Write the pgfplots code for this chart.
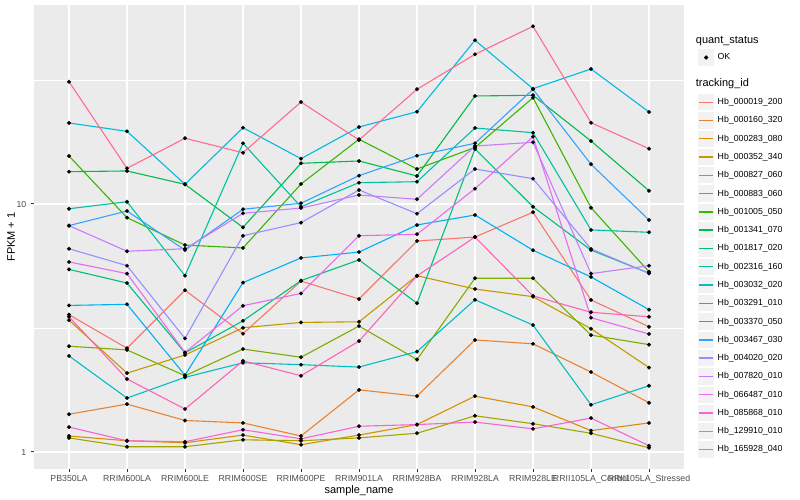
\documentclass[border=0pt]{standalone}
\usepackage{fontspec}
\setmainfont{Liberation Sans}
\usepackage{pgfplots}
\pgfplotsset{compat=1.18}

\definecolor{panelbg}{HTML}{EBEBEB}
\definecolor{keybg}{HTML}{F2F2F2}
\definecolor{tickgray}{HTML}{333333}
\definecolor{labelgray}{HTML}{4D4D4D}
% ggplot hue palette, 20 levels
\definecolor{c01}{HTML}{F8766D}
\definecolor{c02}{HTML}{EA8331}
\definecolor{c03}{HTML}{D89000}
\definecolor{c04}{HTML}{C09B00}
\definecolor{c05}{HTML}{A3A500}
\definecolor{c06}{HTML}{7CAE00}
\definecolor{c07}{HTML}{39B600}
\definecolor{c08}{HTML}{00BB4E}
\definecolor{c09}{HTML}{00BF7D}
\definecolor{c10}{HTML}{00C1A3}
\definecolor{c11}{HTML}{00BFC4}
\definecolor{c12}{HTML}{00BAE0}
\definecolor{c13}{HTML}{00B0F6}
\definecolor{c14}{HTML}{35A2FF}
\definecolor{c15}{HTML}{9590FF}
\definecolor{c16}{HTML}{C77CFF}
\definecolor{c17}{HTML}{E76BF3}
\definecolor{c18}{HTML}{FA62DB}
\definecolor{c19}{HTML}{FF62BC}
\definecolor{c20}{HTML}{FF6C91}

\pgfplotsset{
  series/.style={#1, line width=1.1bp, mark=*, mark size=1.9bp,
    mark options={draw=black, fill=black, line width=0.2bp}},
}

\begin{document}
\begin{tikzpicture}
\begin{axis}[
  set layers, mark layer=axis foreground,
  at={(34.2bp,31bp)}, anchor=south west,
  scale only axis, width=649.6bp, height=464bp,
  xmin=-0.6, xmax=10.6,
  ymode=log, ymin=0.854, ymax=63.45,
  xtick={0,...,10},
  xticklabels={PB350LA,RRIM600LA,RRIM600LE,RRIM600SE,RRIM600PE,RRIM901LA,RRIM928BA,RRIM928LA,RRIM928LE,RRII105LA\_Control,RRII105LA\_Stressed},
  ytick={1,10}, yticklabels={1,10},
  minor ytick={3.1623,31.623},
  grid=both,
  major grid style={white, line width=1.2bp},
  minor grid style={white, line width=0.6bp},
  axis background/.style={fill=panelbg},
  axis line style={draw=none},
  tick pos=left, tick align=outside,
  major tick length=2.75bp, minor tick length=0pt,
  every tick/.style={tickgray, line width=1bp},
  tick label style={font=\fontsize{8.8}{10}\selectfont, text=labelgray, inner sep=0pt},
  xticklabel style={anchor=north, yshift=-2.95bp},
  yticklabel style={anchor=east, xshift=-4.95bp},
  xlabel={sample\_name}, ylabel={FPKM + 1},
  label style={font=\fontsize{11}{13}\selectfont},
  xlabel style={at={(axis description cs:0.5,-0.0474)}, anchor=center},
  ylabel style={at={(axis description cs:-0.0357,0.5)}, anchor=center},
  legend style={at={(1.0203,0.9065)}, anchor=north west, draw=none, fill=none,
    inner sep=0pt, outer sep=0pt, row sep=0pt, column sep=2.4bp,
    font=\fontsize{8.8}{10}\selectfont, nodes={inner sep=0pt, text=black}},
  legend cell align=left,
  legend image code/.code={
    \filldraw[fill=keybg, draw=white, line width=1bp] (0bp,-8.64bp) rectangle (17.28bp,8.64bp);
    \draw[line width=1.4bp] (1.73bp,0bp) -- (15.55bp,0bp);
  },
]
\addlegendimage{legend image code/.code={
    \filldraw[fill=keybg, draw=white, line width=1bp] (0bp,-8.64bp) rectangle (17.28bp,8.64bp);
    \fill[black] (8.64bp,0bp) circle (1.9bp);
    \path (0bp,-35.36bp);
  }}
\addlegendentry{OK}

\addplot[series=c01] coordinates {(0,3.58)(1,2.62)(2,4.49)(3,3.00)(4,4.89)(5,4.14)(6,7.09)(7,7.36)(8,9.26)(9,4.10)(10,3.20)};
\addlegendentry{Hb\_000019\_200}
\addplot[series=c02] coordinates {(0,1.42)(1,1.56)(2,1.34)(3,1.31)(4,1.16)(5,1.78)(6,1.68)(7,2.83)(8,2.73)(9,2.10)(10,1.58)};
\addlegendentry{Hb\_000160\_320}
\addplot[series=c03] coordinates {(0,1.16)(1,1.11)(2,1.09)(3,1.17)(4,1.07)(5,1.17)(6,1.29)(7,1.68)(8,1.52)(9,1.22)(10,1.31)};
\addlegendentry{Hb\_000283\_080}
\addplot[series=c04] coordinates {(0,3.40)(1,2.08)(2,2.46)(3,3.17)(4,3.33)(5,3.35)(6,5.14)(7,4.54)(8,4.23)(9,3.14)(10,2.19)};
\addlegendentry{Hb\_000352\_340}
\addplot[series=c05] coordinates {(0,1.14)(1,1.05)(2,1.05)(3,1.12)(4,1.11)(5,1.14)(6,1.19)(7,1.40)(8,1.30)(9,1.19)(10,1.04)};
\addlegendentry{Hb\_000827\_060}
\addplot[series=c06] coordinates {(0,2.67)(1,2.58)(2,2.03)(3,2.60)(4,2.41)(5,3.22)(6,2.36)(7,5.02)(8,5.02)(9,2.96)(10,2.71)};
\addlegendentry{Hb\_000883\_060}
\addplot[series=c07] coordinates {(0,15.62)(1,8.81)(2,6.83)(3,6.65)(4,12.04)(5,18.24)(6,13.84)(7,16.90)(8,26.83)(9,9.66)(10,5.33)};
\addlegendentry{Hb\_001005\_050}
\addplot[series=c08] coordinates {(0,13.50)(1,13.59)(2,12.00)(3,8.05)(4,14.59)(5,14.91)(6,12.97)(7,27.26)(8,27.44)(9,17.95)(10,11.31)};
\addlegendentry{Hb\_001341\_070}
\addplot[series=c09] coordinates {(0,5.45)(1,4.80)(2,2.51)(3,3.38)(4,4.91)(5,5.95)(6,3.98)(7,16.67)(8,9.75)(9,6.52)(10,5.26)};
\addlegendentry{Hb\_001817\_020}
\addplot[series=c10] coordinates {(0,9.57)(1,10.21)(2,5.14)(3,17.57)(4,9.75)(5,12.19)(6,12.30)(7,20.25)(8,19.39)(9,7.86)(10,7.69)};
\addlegendentry{Hb\_002316\_160}
\addplot[series=c11] coordinates {(0,2.44)(1,1.65)(2,2.00)(3,2.29)(4,2.25)(5,2.20)(6,2.54)(7,4.11)(8,3.25)(9,1.55)(10,1.85)};
\addlegendentry{Hb\_003032\_020}
\addplot[series=c12] coordinates {(0,21.21)(1,19.64)(2,12.01)(3,20.31)(4,15.23)(5,20.44)(6,23.56)(7,45.72)(8,29.17)(9,35.03)(10,23.50)};
\addlegendentry{Hb\_003291\_010}
\addplot[series=c13] coordinates {(0,3.90)(1,3.94)(2,2.04)(3,4.82)(4,6.06)(5,6.40)(6,8.23)(7,9.03)(8,6.51)(9,5.08)(10,3.75)};
\addlegendentry{Hb\_003370\_050}
\addplot[series=c14] coordinates {(0,8.18)(1,9.37)(2,6.52)(3,9.52)(4,10.07)(5,13.01)(6,15.66)(7,17.57)(8,29.00)(9,14.46)(10,8.62)};
\addlegendentry{Hb\_003467\_030}
\addplot[series=c15] coordinates {(0,6.60)(1,5.64)(2,2.87)(3,7.45)(4,8.41)(5,11.39)(6,9.14)(7,13.84)(8,12.65)(9,6.59)(10,5.25)};
\addlegendentry{Hb\_004020\_020}
\addplot[series=c16] coordinates {(0,8.18)(1,6.45)(2,6.60)(3,9.17)(4,9.63)(5,10.87)(6,10.45)(7,17.13)(8,17.73)(9,5.24)(10,5.64)};
\addlegendentry{Hb\_007820\_010}
\addplot[series=c17] coordinates {(0,5.84)(1,5.24)(2,2.52)(3,3.89)(4,4.36)(5,7.45)(6,7.55)(7,11.53)(8,18.68)(9,3.48)(10,2.99)};
\addlegendentry{Hb\_066487\_010}
\addplot[series=c18] coordinates {(0,1.26)(1,1.11)(2,1.10)(3,1.23)(4,1.13)(5,1.27)(6,1.29)(7,1.32)(8,1.24)(9,1.37)(10,1.06)};
\addlegendentry{Hb\_085868\_010}
\addplot[series=c19] coordinates {(0,3.51)(1,1.97)(2,1.49)(3,2.33)(4,2.03)(5,2.80)(6,5.13)(7,7.36)(8,4.26)(9,3.66)(10,3.51)};
\addlegendentry{Hb\_129910\_010}
\addplot[series=c20] coordinates {(0,31.12)(1,13.93)(2,18.41)(3,16.10)(4,25.78)(5,18.12)(6,29.01)(7,40.14)(8,52.06)(9,21.27)(10,16.71)};
\addlegendentry{Hb\_165928\_040}
\end{axis}
\node[anchor=west, inner sep=0pt, font=\fontsize{11}{13}\selectfont] at (695.7bp,459bp) {quant\_status};
\node[anchor=west, inner sep=0pt, font=\fontsize{11}{13}\selectfont] at (695.7bp,416bp) {tracking\_id};
\pgfresetboundingbox
\path[use as bounding box] (0bp,0bp) rectangle (800bp,500bp);
\end{tikzpicture}
\end{document}
